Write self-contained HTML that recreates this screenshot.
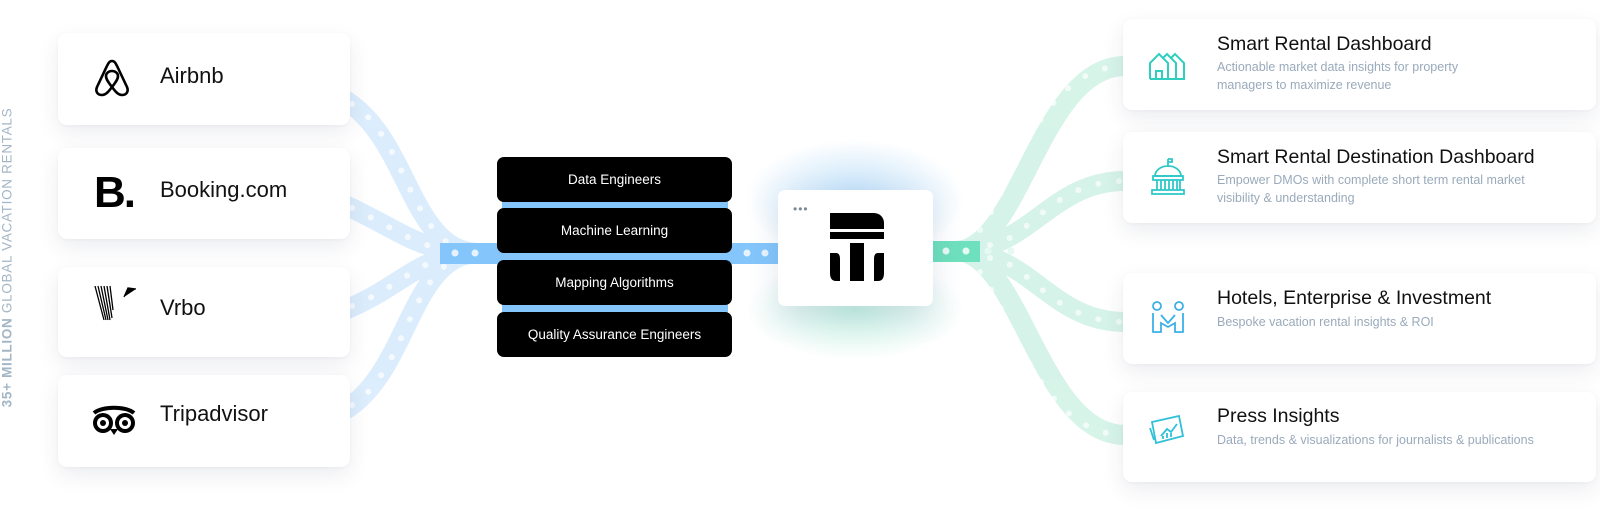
<!DOCTYPE html>
<html><head><meta charset="utf-8">
<style>
html,body{margin:0;padding:0;background:#fff;}
body{width:1600px;height:516px;overflow:hidden;position:relative;font-family:"Liberation Sans",sans-serif;}
svg{position:absolute;left:0;top:0;}
.card{position:absolute;background:#fff;border-radius:9px;box-shadow:0 8px 22px rgba(40,50,90,0.09),0 1px 3px rgba(40,50,90,0.04);}
.lname{position:absolute;left:102px;font-size:22px;color:#111;}
.bbox{position:absolute;left:497px;width:235px;background:#000;border-radius:7px;color:#fff;font-size:13.5px;text-align:center;}
.rt{position:absolute;left:94px;font-size:19.5px;color:#111;}
.rs{position:absolute;left:94px;font-size:12.5px;color:#9aaabb;line-height:18px;}
.vt{position:absolute;left:-143px;top:250px;width:300px;transform:rotate(-90deg);font-size:13.5px;letter-spacing:0.7px;color:#a3b6c6;text-align:center;white-space:nowrap;}
</style></head><body>
<svg width="1600" height="516" viewBox="0 0 1600 516">
<defs>
<radialGradient id="glow" cx="0.5" cy="0.5" r="0.5">
<stop offset="0" stop-color="#9fd0f5" stop-opacity="0.7"/><stop offset="1" stop-color="#9fd0f5" stop-opacity="0"/></radialGradient>
<radialGradient id="glow2" cx="0.5" cy="0.5" r="0.5">
<stop offset="0" stop-color="#8fe3c8" stop-opacity="0.5"/><stop offset="1" stop-color="#8fe3c8" stop-opacity="0"/></radialGradient>
</defs>
<ellipse cx="855" cy="200" rx="110" ry="60" fill="url(#glow)"/>
<ellipse cx="855" cy="310" rx="110" ry="50" fill="url(#glow2)"/>
<g fill="none" stroke="#d3e9fc" stroke-width="20" opacity="0.8">
<path d="M345,100 C410,140 410,253 480,253"/>
<path d="M345,205 C400,230 420,253 480,253"/>
<path d="M345,310 C405,285 420,253 480,253"/>
<path d="M345,410 C410,370 410,253 480,253"/>
</g>
<g fill="none" stroke="#fff" stroke-width="6" stroke-linecap="round" stroke-dasharray="0 21" opacity="0.7">
<path d="M352,104 C410,140 410,253 480,253"/>
<path d="M352,208 C400,230 420,253 480,253"/>
<path d="M352,306 C405,285 420,253 480,253"/>
<path d="M352,405 C410,370 410,253 480,253"/>
</g>
<rect x="440" y="243" width="340" height="21" fill="#84c6fb"/>
<rect x="502" y="160" width="226" height="190" fill="#84c6fb"/>
<g fill="#e6f3fe"><circle cx="455" cy="253" r="3.5"/><circle cx="475" cy="253" r="3.5"/><circle cx="747" cy="253" r="3.5"/><circle cx="765" cy="253" r="3.5"/></g>
<g fill="none" stroke="#cdf1e4" stroke-width="20" opacity="0.8">
<path d="M955,251 C1020,251 1040,66 1125,66"/>
<path d="M955,251 C1030,251 1050,181 1125,181"/>
<path d="M955,251 C1030,251 1050,322 1125,322"/>
<path d="M955,251 C1020,251 1040,435 1125,435"/>
</g>
<g fill="none" stroke="#fff" stroke-width="6" stroke-linecap="round" stroke-dasharray="0 21" opacity="0.65">
<path d="M980,230 C1010,190 1040,66 1125,66"/>
<path d="M990,245 C1030,240 1050,181 1125,181"/>
<path d="M990,258 C1030,262 1050,322 1125,322"/>
<path d="M980,272 C1010,310 1040,435 1125,435"/>
</g>
<rect x="930" y="241" width="50" height="21" fill="#6fe0bd"/>
<g fill="#e6faf3"><circle cx="946" cy="251" r="3.5"/><circle cx="966" cy="251" r="3.5"/><circle cx="988" cy="251" r="3.5"/><circle cx="1011" cy="251" r="3.5"/></g>
</svg>

<div class="vt"><b style="font-weight:bold">35+ MILLION</b> GLOBAL VACATION RENTALS</div>

<div class="card" style="left:58px;top:33px;width:292px;height:92px;">
<svg width="40" height="40" style="left:34px;top:24px" viewBox="0 0 40 40"><path d="M20,4 C17,4 16,7 14,11 L5,30 C3,35 6,38 10,38 C14,38 17,34 20,30 C23,34 26,38 30,38 C34,38 37,35 35,30 L26,11 C24,7 23,4 20,4 Z M20,30 C16,25 14,22 14,19 C14,16 17,14 20,14 C23,14 26,16 26,19 C26,22 24,25 20,30 Z" fill="none" stroke="#000" stroke-width="2.6"/></svg>
<div class="lname" style="top:30px">Airbnb</div></div>
<div class="card" style="left:58px;top:148px;width:292px;height:91px;">
<div style="position:absolute;left:36px;top:20px;font-size:44px;font-weight:bold;color:#000;letter-spacing:-2px">B.</div>
<div class="lname" style="top:29px">Booking.com</div></div>
<div class="card" style="left:58px;top:267px;width:292px;height:90px;">
<svg width="50" height="40" style="left:36px;top:18px" viewBox="0 0 50 40"><g stroke="#000" stroke-width="1.3"><path d="M1,1 L10,35"/><path d="M4,1 L12,35"/><path d="M7,1 L14,35"/><path d="M10,1 L16,35"/><path d="M13,1 L18,33"/><path d="M16,1 L19,25"/><path d="M30,12 L34,3 L42,4"/></g></svg>
<div class="lname" style="top:28px">Vrbo</div></div>
<div class="card" style="left:58px;top:375px;width:292px;height:92px;">
<svg width="48" height="32" style="left:32px;top:30px" viewBox="0 0 48 32"><path d="M4,8 C12,1 36,1 44,8" stroke="#000" stroke-width="4" fill="none"/><circle cx="13" cy="18" r="10" fill="#000"/><circle cx="35" cy="18" r="10" fill="#000"/><circle cx="13" cy="18" r="6" fill="#fff"/><circle cx="35" cy="18" r="6" fill="#fff"/><circle cx="13" cy="18" r="3" fill="#000"/><circle cx="35" cy="18" r="3" fill="#000"/><path d="M20,24 L24,30 L28,24Z" fill="#000"/></svg>
<div class="lname" style="top:26px">Tripadvisor</div></div>

<div class="bbox" style="top:157px;height:45px;line-height:45px">Data Engineers</div>
<div class="bbox" style="top:208px;height:45px;line-height:45px">Machine Learning</div>
<div class="bbox" style="top:260px;height:45px;line-height:45px">Mapping Algorithms</div>
<div class="bbox" style="top:312px;height:45px;line-height:45px">Quality Assurance Engineers</div>

<div class="card" style="left:778px;top:190px;width:155px;height:116px;border-radius:7px;box-shadow:0 10px 30px rgba(60,90,140,0.15)">
<div style="position:absolute;left:15px;top:12px;font-size:12px;color:#7c8a96;letter-spacing:1px">&#8226;&#8226;&#8226;</div>
<svg width="54" height="68" style="left:52px;top:23px;position:absolute" viewBox="0 0 54 68"><path d="M0,0 H44 A10,10 0 0 1 54,10 V16 H0 Z" fill="#000"/><rect x="0" y="19" width="54" height="7" fill="#000"/><rect x="20" y="30" width="14" height="38" fill="#000"/><path d="M0,40 L6,40 Q10,40 10,46 L10,68 L6,68 Q0,68 0,60 Z" fill="#000"/><path d="M54,40 L48,40 Q44,40 44,46 L44,68 L48,68 Q54,68 54,60 Z" fill="#000"/></svg>
</div>

<div class="card" style="left:1123px;top:19px;width:473px;height:91px;">
<svg width="40" height="30" style="position:absolute;left:26px;top:32px" viewBox="0 0 40 30"><g fill="none" stroke="#2fcfc0" stroke-width="2"><path d="M1,28 V12 L10,3 L19,12 V28 H1"/><path d="M7,28 V20 H13 V28"/><path d="M14,7 L18,3 L27,12 V28 H19"/><path d="M22,7 L26,3 L35,12 V28 H27"/></g></svg>
<div class="rt" style="top:14px">Smart Rental Dashboard</div>
<div class="rs" style="top:39px">Actionable market data insights for property<br>managers to maximize revenue</div></div>
<div class="card" style="left:1123px;top:132px;width:473px;height:91px;">
<svg width="34" height="38" style="position:absolute;left:28px;top:26px" viewBox="0 0 34 38"><g fill="none" stroke="#2fc8c8" stroke-width="1.8"><path d="M17,1 V9 M17,1 H21 V4 H17"/><path d="M4,18 A13,10 0 0 1 30,18 Z"/><rect x="2" y="18" width="30" height="4"/><path d="M6,22 V32 M10,22 V32 M14,22 V32 M18,22 V32 M22,22 V32 M26,22 V32 M29,22 V32"/><rect x="1" y="32" width="32" height="4"/></g></svg>
<div class="rt" style="top:14px">Smart Rental Destination Dashboard</div>
<div class="rs" style="top:39px">Empower DMOs with complete short term rental market<br>visibility &amp; understanding</div></div>
<div class="card" style="left:1123px;top:273px;width:473px;height:91px;">
<svg width="34" height="34" style="position:absolute;left:28px;top:28px" viewBox="0 0 34 34"><g fill="none" stroke="#3bb0e8" stroke-width="1.8"><circle cx="6" cy="5" r="4"/><circle cx="28" cy="5" r="4"/><path d="M2,12 V31 H10 V22 L17,26 L24,22 V31 H32 V12"/><path d="M10,14 L17,22 L24,14"/></g></svg>
<div class="rt" style="top:14px">Hotels, Enterprise &amp; Investment</div>
<div class="rs" style="top:40px">Bespoke vacation rental insights &amp; ROI</div></div>
<div class="card" style="left:1123px;top:392px;width:473px;height:90px;">
<svg width="36" height="32" style="position:absolute;left:26px;top:22px" viewBox="0 0 36 32"><g fill="none" stroke="#30c0d8" stroke-width="1.8"><path d="M3,8 L30,2 L34,22 L7,29 Z"/><path d="M1,14 L5,26"/><path d="M12,22 L18,15 L22,18 L28,10"/><path d="M14,25 V22 M18,24 V19 M22,23 V19"/></g></svg>
<div class="rt" style="top:13px">Press Insights</div>
<div class="rs" style="top:39px">Data, trends &amp; visualizations for journalists &amp; publications</div></div>
</body></html>
